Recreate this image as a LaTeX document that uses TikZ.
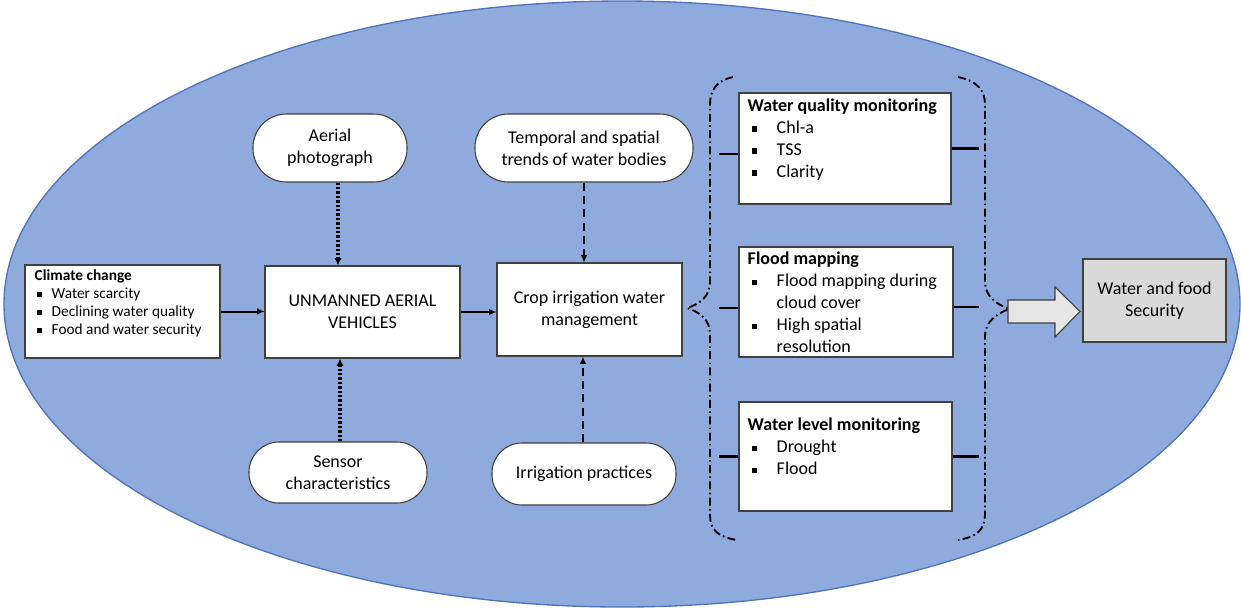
\documentclass[tikz,border=0pt]{standalone}
\usepackage{fontspec}
\setmainfont{Carlito}
\usetikzlibrary{arrows.meta}
\definecolor{ellfill}{HTML}{8FAADC}
\definecolor{elldraw}{HTML}{4F74BE}
\definecolor{boxdraw}{HTML}{404040}
\definecolor{grayfill}{HTML}{D9D9D9}
\definecolor{arrowfill}{HTML}{E7E6E6}
\newcommand\dgbig{\fontsize{13.5}{16.5}\selectfont}
\newcommand\dgsmall{\fontsize{11.5}{13.5}\selectfont}
\newcommand\bulA{\makebox[21.75pt][l]{\hspace{3pt}\rule[0.2ex]{4pt}{4pt}}}
\newcommand\bulB{\makebox[12.75pt][l]{\hspace{2pt}\rule[0.25ex]{3.5pt}{3.5pt}}}
\tikzset{
  box/.style={draw=boxdraw, line width=0.8pt, fill=white, inner sep=0pt},
  pill/.style={box, align=center, font=\dgbig},
  solidarrow/.style={line width=1.5pt, -{Latex[length=5.5pt,width=5pt]}},
  dotarrow/.style={line width=2.3pt, dash pattern=on 1.8pt off 1.5pt, -{Latex[length=5.5pt,width=5.5pt]}},
  dasharrow/.style={line width=1.6pt, dash pattern=on 6pt off 4pt, -{Latex[length=5.5pt,width=5pt]}},
  brace/.style={line width=1.4pt, dash pattern=on 6pt off 2.5pt on 1.2pt off 2.5pt},
  tickline/.style={line width=2pt},
  boxtext/.style={anchor=north west, inner sep=0pt, align=left}
}
\begin{document}
\begin{tikzpicture}[x=0.75pt,y=-0.75pt]
\useasboundingbox (0,0) rectangle (1241,608);
% background ellipse
\filldraw[fill=ellfill, draw=elldraw, line width=1pt] (622,304) ellipse [x radius=463.5pt, y radius=227.25pt];

% climate change box
\node[box, minimum width=146.25pt, minimum height=69.75pt] (climate) at (122.5,311.5) {};
\node[boxtext, font=\dgsmall] (climatet) at ([xshift=7.5pt,yshift=-3.8pt]climate.north west)
  {\textbf{Climate change}\\\bulB Water scarcity\\\bulB Declining water quality\\\bulB Food and water security};

% UAV
\node[box, minimum width=146.25pt, minimum height=69pt, align=center, font=\dgbig] (uav) at (362.5,312) {UNMANNED AERIAL\\VEHICLES};
% Crop irrigation
\node[box, minimum width=138.75pt, minimum height=69.75pt, align=center, font=\dgbig] (crop) at (589.5,309.5) {Crop irrigation water\\management};

% pills
\node[pill, rounded corners=25pt, minimum width=115.5pt, minimum height=51pt] (aerial) at (330,148) {Aerial\\photograph};
\node[pill, rounded corners=25pt, minimum width=163.5pt, minimum height=51pt] (temporal) at (584,148) {Temporal and spatial\\trends of water bodies};
\node[pill, rounded corners=22.5pt, minimum width=133.5pt, minimum height=45.75pt] (sensor) at (338,472.5) {Sensor\\characteristics};
\node[pill, rounded corners=22.5pt, minimum width=138pt, minimum height=46.5pt] (irrig) at (584,474) {Irrigation practices};

% right boxes
\node[box, minimum width=159pt, minimum height=83.25pt] (wq) at (845,148.5) {};
\node[boxtext, font=\dgbig] (wqt) at ([xshift=6.75pt,yshift=-4.5pt]wq.north west)
  {\textbf{Water quality monitoring}\\\bulA Chl-a\\\bulA TSS\\\bulA Clarity};
\node[box, minimum width=160.5pt, minimum height=82.5pt] (flood) at (846,302) {};
\node[boxtext, font=\dgbig] (floodt) at ([xshift=6.75pt,yshift=-4pt]flood.north west)
  {\textbf{Flood mapping}\\\bulA Flood mapping during\\\hspace*{21.75pt}cloud cover\\\bulA High spatial\\\hspace*{21.75pt}resolution};
\node[box, minimum width=159.75pt, minimum height=81.75pt] (wl) at (845.5,456.5) {};
\node[boxtext, font=\dgbig] (wlt) at ([xshift=6.75pt,yshift=-12.25pt]wl.north west)
  {\textbf{Water level monitoring}\\\bulA Drought\\\bulA Flood};

% water and food security
\node[box, fill=grayfill, minimum width=107.25pt, minimum height=62.25pt, align=center, font=\dgbig] (wfs) at (1154.5,300.5) {Water and food\\Security};

% arrows
\draw[solidarrow] (climate.east) -- (climate.east -| uav.west);
\draw[solidarrow] (uav.east) -- (uav.east -| crop.west);
\draw[dotarrow] ([xshift=6pt]aerial.south) -- ([xshift=6pt]aerial.south |- uav.north);
\draw[dotarrow] ([xshift=1.5pt]sensor.north) -- ([xshift=1.5pt]sensor.north |- uav.south);
\draw[dasharrow] (temporal.south) -- (temporal.south |- crop.north);
\draw[dasharrow] ([xshift=-0.75pt]irrig.north) -- ([xshift=-0.75pt]irrig.north |- crop.south);

% braces
\draw[brace] (733,77) .. controls (716,81) and (710,90) .. (710,105) -- (710,282)
  .. controls (710,296) and (700,304) .. (687,308)
  .. controls (700,312) and (710,320) .. (710,334) -- (710,515)
  .. controls (710,530) and (718,537) .. (737,540);
\draw[brace] (958,77) .. controls (977,81) and (985,90) .. (985,105) -- (985,282)
  .. controls (985,296) and (996,304) .. (1009,309)
  .. controls (996,314) and (985,322) .. (985,336) -- (985,515)
  .. controls (985,530) and (976,537) .. (958,540);

% short ticks
\draw[tickline] ([yshift=-4pt]wq.west) -- ++(-19.5,0);
\draw[tickline] ([yshift=-4.5pt]flood.west) -- ++(-19.5,0);
\draw[tickline] (wl.west) -- ++(-19.5,0);
\draw[tickline] (wq.east) -- ++(27,0);
\draw[tickline] ([yshift=-3.75pt]flood.east) -- ++(25,0);
\draw[tickline] (wl.east) -- ++(26,0);

% block arrow
\filldraw[fill=arrowfill, draw=boxdraw, line width=0.8pt]
  (1008,300) -- (1055,300) -- (1055,287) -- (1080,311.5) -- (1055,337) -- (1055,323) -- (1008,323) -- cycle;
\end{tikzpicture}
\end{document}
